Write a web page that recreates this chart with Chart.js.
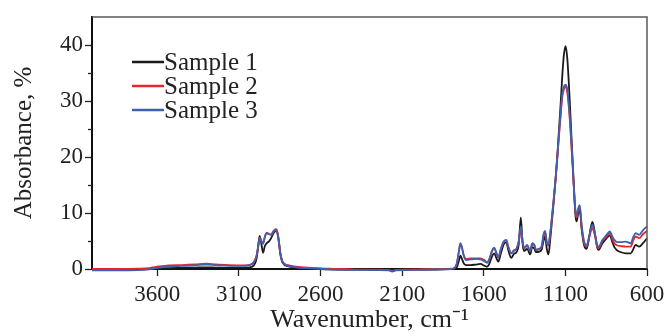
<!DOCTYPE html>
<html><head><meta charset="utf-8">
<script src="https://cdn.jsdelivr.net/npm/chart.js@4.4.1/dist/chart.umd.min.js"></script>
<style>html,body{margin:0;padding:0;background:#fff;}canvas{display:block;}</style>
</head><body>
<canvas id="c" width="666" height="336"></canvas>
<script>
const wavenumbers = [4000,3850,3720,3650,3590,3530,3450,3370,3300,3240,3160,3080,3035,3010,2992,2982,2973,2962,2952,2941,2930,2917,2903,2885,2870,2858,2846,2832,2800,2750,2650,2550,2400,2250,2180,2160,2140,2000,1850,1800,1780,1765,1752,1743,1735,1722,1708,1680,1650,1620,1597,1580,1565,1550,1536,1522,1511,1495,1478,1462,1450,1432,1415,1400,1386,1373,1362,1352,1334,1316,1303,1290,1280,1260,1245,1234,1224,1214,1204,1192,1180,1170,1160,1150,1140,1130,1120,1110,1099,1088,1075,1065,1055,1045,1038,1031,1022,1012,1000,985,970,955,944,934,918,905,896,873,850,828,812,800,782,760,731,700,683,670,648,625,600];
const sample1 = [-0.05,-0.05,-0.05,0.0,0.1,0.15,0.2,0.25,0.3,0.25,0.2,0.2,0.3,0.6,1.8,4.0,5.9,4.4,2.9,4.1,4.6,4.9,5.5,6.5,6.9,5.4,2.6,1.1,0.5,0.25,0.05,-0.05,-0.1,-0.15,-0.2,-0.35,-0.2,-0.1,-0.05,0.0,0.05,0.3,1.5,2.4,1.9,1.0,0.7,0.7,0.8,0.9,0.6,0.4,1.0,2.2,2.8,1.9,1.3,2.8,4.4,4.8,3.4,2.0,2.7,3.0,4.3,9.2,4.5,3.2,3.6,2.6,3.9,3.6,3.0,3.1,3.5,5.0,5.8,3.6,2.6,5.5,9.3,12.5,16,20,24.5,29,34,38,39.8,37.5,31,25,19,13,9.5,8.5,9.8,10.6,7,4.2,3.6,5.5,7.5,8.4,6.2,3.8,3.4,4.6,5.4,6.0,4.8,3.9,3.3,3.0,2.8,2.8,3.6,4.3,4.0,4.6,5.5];
const sample2 = [0.0,0.0,0.05,0.15,0.45,0.65,0.7,0.8,0.95,0.8,0.7,0.65,0.75,1.2,2.4,4.1,5.6,5.0,4.6,5.8,6.5,6.3,6.2,6.9,7.1,5.6,2.9,1.3,0.7,0.4,0.2,0.05,-0.05,-0.1,-0.15,-0.3,-0.15,-0.05,0.0,0.05,0.2,1.0,3.2,4.5,4.0,2.4,1.8,1.9,1.9,1.9,1.6,1.2,1.8,3.2,3.7,2.8,2.1,3.6,4.8,5.1,4.0,2.8,3.3,3.6,4.7,7.2,4.8,3.7,4.2,3.2,4.4,4.2,3.4,3.6,4.0,5.8,6.5,4.7,4.2,6.5,9.8,12.8,16,19.5,23.5,27,30.5,32,32.5,31.5,27.5,23,18,12.8,10,9.2,10.4,11.0,7.4,4.6,4.0,5.5,6.7,7.3,5.8,4.0,3.75,5.0,5.7,6.4,5.3,4.6,4.2,4.1,4.0,4.0,5.2,5.8,5.5,6.2,6.8];
const sample3 = [-0.25,-0.25,-0.2,-0.05,0.25,0.45,0.55,0.65,0.8,0.7,0.55,0.55,0.7,1.1,2.3,4.0,5.5,4.9,4.5,5.7,6.4,6.2,6.1,6.8,7.0,5.5,2.7,1.2,0.6,0.3,0.1,-0.05,-0.15,-0.2,-0.25,-0.45,-0.25,-0.15,-0.05,0.0,0.15,1.0,3.2,4.6,4.0,2.3,1.6,1.7,1.8,1.7,1.4,1.1,1.8,3.2,3.8,2.8,2.0,3.6,4.9,5.2,4.0,2.8,3.3,3.6,5.0,7.6,5.0,3.7,4.3,3.2,4.6,4.3,3.4,3.6,4.1,6.2,6.8,4.8,4.3,6.7,10,13,16.2,19.8,23.8,27.5,31,32.5,32.9,32,28,23.5,18.5,13.2,10.3,9.6,10.8,11.4,7.8,4.9,4.2,5.8,7.2,7.9,6.1,4.3,4.0,5.2,6.0,6.7,5.8,5.2,4.8,4.8,4.9,4.6,5.8,6.4,6.1,6.9,7.6];
const seriesNames = ['Sample 1','Sample 2','Sample 3'];
const seriesColors = ['#1a1a1a','#e8262b','#3d61b0'];
const xTicks = [3600,3100,2600,2100,1600,1100,600];
const yMajorTicks = [0,10,20,30,40];
const yMinorTicks = [5,15,25,35];

const FONT = 'Liberation Serif';
const seriesValues = [sample1, sample2, sample3];

const framePlugin = {
  id: 'frame',
  afterDraw(chart) {
    const {ctx, chartArea: a} = chart;
    const y = chart.scales.y;
    ctx.save();
    ctx.strokeStyle = '#5a5a5a';
    ctx.lineWidth = 1.5;
    ctx.beginPath();
    ctx.moveTo(a.left, a.top);
    ctx.lineTo(a.right, a.top);
    ctx.lineTo(a.right, a.bottom);
    ctx.stroke();
    ctx.strokeStyle = '#222';
    ctx.lineWidth = 1.3;
    yMinorTicks.forEach(v => {
      const py = Math.round(y.getPixelForValue(v)) + 0.5;
      ctx.beginPath();
      ctx.moveTo(a.left - 4, py);
      ctx.lineTo(a.left, py);
      ctx.stroke();
    });
    ctx.restore();
  }
};

const legendPlugin = {
  id: 'insideLegend',
  afterDraw(chart) {
    const ctx = chart.ctx;
    ctx.save();
    ctx.font = '25px "' + FONT + '"';
    ctx.textBaseline = 'middle';
    ctx.fillStyle = '#222';
    chart.data.datasets.forEach((ds, i) => {
      const yy = 62 + i * 24;
      ctx.strokeStyle = ds.borderColor;
      ctx.lineWidth = 2.5;
      ctx.beginPath();
      ctx.moveTo(132, yy);
      ctx.lineTo(164, yy);
      ctx.stroke();
      ctx.fillText(ds.label, 164, yy + 1);
    });
    ctx.restore();
  }
};

new Chart(document.getElementById('c'), {
  type: 'line',
  data: {
    datasets: seriesNames.map((name, i) => ({
      label: name,
      data: wavenumbers.map((w, j) => ({x: w, y: seriesValues[i][j]})),
      borderColor: seriesColors[i],
      borderWidth: 1.8,
      pointRadius: 0,
      fill: false,
      cubicInterpolationMode: 'monotone',
      clip: false,
      order: 3 - i
    }))
  },
  options: {
    responsive: false,
    devicePixelRatio: 1,
    animation: false,
    layout: {padding: {left: 0, right: 19, top: 17, bottom: 0}},
    plugins: {legend: {display: false}, tooltip: {enabled: false}},
    scales: {
      x: {
        type: 'linear', reverse: true, min: 600, max: 4000,
        afterBuildTicks: s => { s.ticks = xTicks.map(v => ({value: v})); },
        afterFit: s => { s.height = 67; s.paddingLeft = 0; s.paddingRight = 0; },
        border: {color: '#111', width: 2},
        grid: {drawOnChartArea: false, tickLength: 7, tickWidth: 1.3, tickColor: '#222'},
        ticks: {font: {family: FONT, size: 23}, color: '#222', padding: 5, maxRotation: 0, autoSkip: false, callback: v => String(v)},
        title: {display: true, text: 'Wavenumber, cm\u207B\u00B9', font: {family: FONT, size: 26}, color: '#222', padding: {top: 0, bottom: 0}}
      },
      y: {
        min: 0, max: 45,
        afterBuildTicks: s => { s.ticks = yMajorTicks.map(v => ({value: v})); },
        afterFit: s => { s.width = 92; s.paddingTop = 0; s.paddingBottom = 0; },
        border: {color: '#111', width: 2},
        grid: {drawOnChartArea: false, tickLength: 7, tickWidth: 1.3, tickColor: '#222'},
        ticks: {font: {family: FONT, size: 23}, color: '#222', padding: 2, callback: v => String(v)},
        title: {display: true, text: 'Absorbance, %', font: {family: FONT, size: 25}, color: '#222', padding: {top: 9, bottom: 0}}
      }
    }
  },
  plugins: [framePlugin, legendPlugin]
});
</script>
</body></html>
